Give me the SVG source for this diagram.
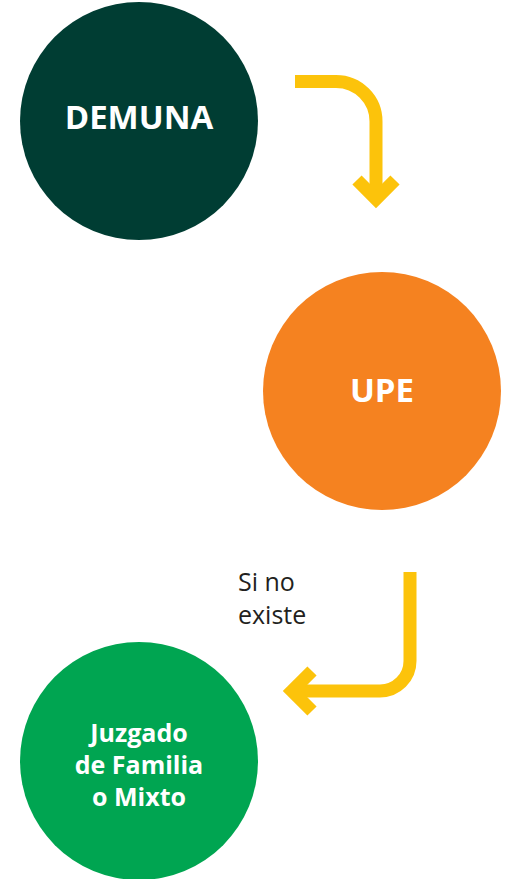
<svg xmlns="http://www.w3.org/2000/svg" width="510" height="879" viewBox="0 0 510 879">
<style>
.lbl{font-family:"Open Sans","Liberation Sans",sans-serif;font-weight:bold;fill:#ffffff;text-anchor:middle}
.note{font-family:"Open Sans","Liberation Sans",sans-serif;fill:#231f20;font-size:25px}
.conn{fill:none;stroke:#fcc30b;stroke-width:13}
</style>
<rect width="510" height="879" fill="#ffffff"/>
<g id="demuna">
<circle cx="139" cy="121" r="119" fill="#003d33"/>
<text class="lbl" x="139" y="129" font-size="33">DEMUNA</text>
</g>
<g id="upe">
<circle cx="382" cy="391" r="119" fill="#f58220"/>
<text class="lbl" x="382" y="402" font-size="33">UPE</text>
</g>
<g id="juzgado">
<circle cx="139" cy="761" r="119" fill="#00a551"/>
<text class="lbl" x="139" y="742" font-size="25">Juzgado</text>
<text class="lbl" x="139" y="774" font-size="25">de Familia</text>
<text class="lbl" x="139" y="806" font-size="25">o Mixto</text>
</g>
<g id="connectors">
<path class="conn" d="M295,81.5 H336 A40,40 0 0 1 376,121.5 V198"/>
<path class="conn" d="M357,180 L376,199 L395,180"/>
<path class="conn" d="M410,572 V661 A30,30 0 0 1 380,691 H293"/>
<path class="conn" d="M312,671 L292,691 L312,711"/>
<text class="note" x="238" y="591">Si no</text>
<text class="note" x="238" y="624">existe</text>
</g>
</svg>
